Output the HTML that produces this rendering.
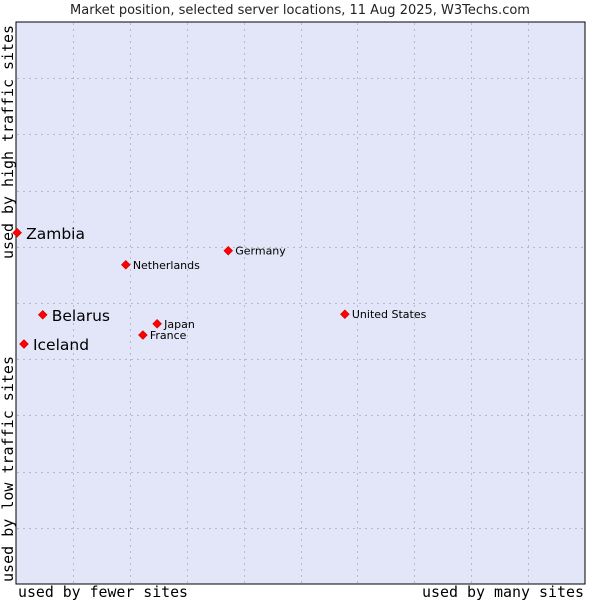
<!DOCTYPE html>
<html><head><meta charset="utf-8"><style>
html,body{margin:0;padding:0;background:#fff;width:600px;height:600px;overflow:hidden}
svg text{font-family:"DejaVu Sans","Liberation Sans",sans-serif}
.mono{font-family:"DejaVu Sans Mono","Liberation Mono",monospace}
</style></head><body>
<svg id="chart" width="600" height="600" viewBox="0 0 600 600" xmlns="http://www.w3.org/2000/svg">
<text x="300" y="14" font-size="13" text-anchor="middle" fill="#222">Market position, selected server locations, 11 Aug 2025, W3Techs.com</text>
<rect x="16" y="22" width="569" height="562" fill="#e3e5f8" stroke="#000" stroke-width="1"/>
<g id="grid"></g>
<g id="points"></g>
<text class="mono" x="18" y="597" font-size="15" textLength="170" lengthAdjust="spacingAndGlyphs">used by fewer sites</text>
<text class="mono" x="584" y="597" font-size="15" text-anchor="end" textLength="162" lengthAdjust="spacingAndGlyphs">used by many sites</text>
<text class="mono" transform="translate(13,582) rotate(-90)" font-size="15" textLength="226" lengthAdjust="spacingAndGlyphs">used by low traffic sites</text>
<text class="mono" transform="translate(13,259) rotate(-90)" font-size="15" textLength="234" lengthAdjust="spacingAndGlyphs">used by high traffic sites</text>
</svg>
<script>
const names=["Zambia","Netherlands","Germany","Belarus","Japan","France","United States","Iceland"];
const xVals=[0.2,19.3,37.3,4.7,24.8,22.3,57.8,1.4];
const yVals=[62.5,56.8,59.3,47.9,46.3,44.3,48.0,42.7];
const bigLabel=[true,false,false,true,false,false,false,true];
const NS="http://www.w3.org/2000/svg";
const X0=16,X1=585,Y0=584,Y1=22;
function sx(v){return X0+(X1-X0)*v/100;}
function sy(v){return Y0-(Y0-Y1)*v/100;}
const grid=document.getElementById('grid');
for(let i=1;i<10;i++){
  const v=document.createElementNS(NS,'line');
  
  
  const x=Math.round(sx(i*10))+0.5;
  v.setAttribute('x1',x);v.setAttribute('x2',x);v.setAttribute('y1',Y1+1);v.setAttribute('y2',Y0);
  v.setAttribute('stroke','#bbbbbb');v.setAttribute('stroke-dasharray','2,4');
  grid.appendChild(v);
  const h=document.createElementNS(NS,'line');
  
  
  const y=Math.round(sy(i*10))+0.5;
  h.setAttribute('x1',X0+1);h.setAttribute('x2',X1);h.setAttribute('y1',y);h.setAttribute('y2',y);
  h.setAttribute('stroke','#bbbbbb');h.setAttribute('stroke-dasharray','2,4');
  grid.appendChild(h);
}
const pts=document.getElementById('points');
names.forEach((n,i)=>{
  const x=sx(xVals[i]),y=sy(yVals[i]);
  const d=document.createElementNS(NS,'polygon');
  
  
  d.setAttribute('points',`${x},${y-4.5} ${x+4.5},${y} ${x},${y+4.5} ${x-4.5},${y}`);
  d.setAttribute('fill','#f00');d.setAttribute('stroke','#a00');d.setAttribute('stroke-width','0.5');
  pts.appendChild(d);
  const t=document.createElementNS(NS,'text');
  
  
  const big=bigLabel[i];
  t.setAttribute('x',x+(big?9:7));
  t.setAttribute('y',y+(big?6:4));
  t.setAttribute('font-size',big?'15.5':'11');
  t.setAttribute('fill','#000');
  t.textContent=n;
  pts.appendChild(t);
});
</script>
</body></html>
